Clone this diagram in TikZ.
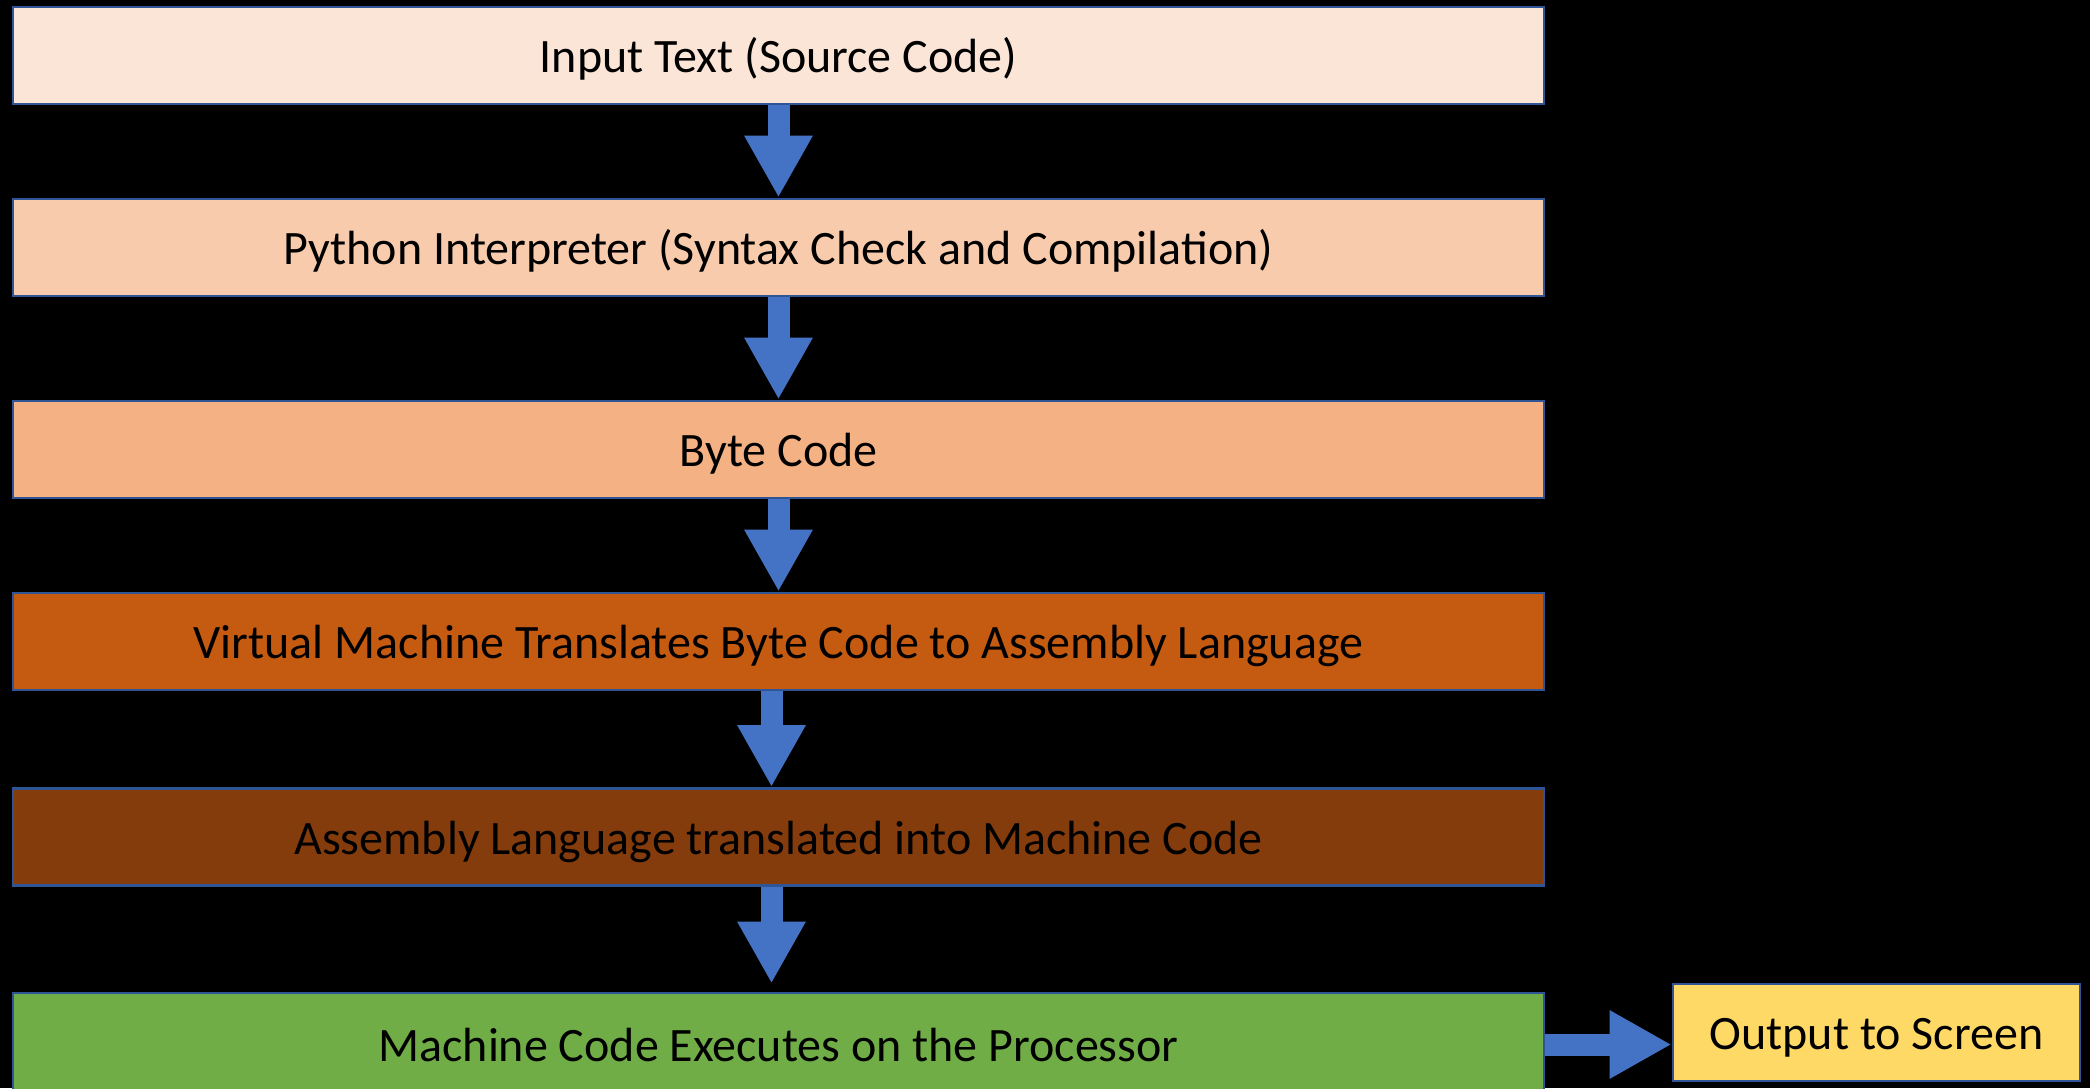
\documentclass[tikz,border=0pt]{standalone}
\usepackage{fontspec}
\setmainfont{Carlito}
\usetikzlibrary{arrows.meta}
\definecolor{bordc}{HTML}{2F5597}
\definecolor{arrc}{HTML}{4472C4}
\definecolor{cA}{HTML}{FBE5D6}
\definecolor{cB}{HTML}{F8CBAD}
\definecolor{cC}{HTML}{F4B183}
\definecolor{cD}{HTML}{C55A11}
\definecolor{cE}{HTML}{843C0C}
\definecolor{cF}{HTML}{70AD47}
\definecolor{cG}{HTML}{FFD966}
\tikzset{
  stagebox/.style={draw=bordc, line width=1.4pt, minimum width=765.5pt, minimum height=48.5pt,
    inner sep=0pt, text height=20pt, text depth=2.6pt,
    font=\fontsize{24pt}{29pt}\selectfont, text=black},
  flowarrow/.style={draw=arrc, line width=11pt, -{Triangle[width=32pt, length=31pt]}, arrc}
}
\begin{document}
\begin{tikzpicture}[x=0.5pt, y=-0.5pt]
\fill[black] (0,0) rectangle (2090,1088);
\useasboundingbox (0,0) rectangle (2090,1088);
\begin{scope}
\clip (0,0) rectangle (2090,1088);
\node[stagebox, fill=cA] (b1) at (778.5,55.5) {Input Text (Source Code)};
\node[stagebox, fill=cB] (b2) at (778.5,247.5) {Python Interpreter (Syntax Check and Compilation)};
\node[stagebox, fill=cC] (b3) at (778.5,449.5) {Byte Code};
\node[stagebox, fill=cD] (b4) at (778.5,641.5) {Virtual Machine Translates Byte Code to Assembly Language};
\node[stagebox, fill=cE] (b5) at (778.5,837) {Assembly Language translated into Machine Code};
\node[stagebox, fill=cF, minimum height=51.5pt] (b6) at (778.5,1044.5) {Machine Code Executes on the Processor};
\node[stagebox, fill=cG, minimum width=203.5pt] (out) at (1876.5,1032.5) {Output to Screen};
\draw[flowarrow] (b1.south) -- (b2.north);
\draw[flowarrow] (b2.south) -- (b3.north);
\draw[flowarrow] (b3.south) -- (b4.north);
\draw[flowarrow] ([xshift=-3.5pt]b4.south) -- ([xshift=-3.5pt]b5.north);
\draw[flowarrow, shorten >=4pt] ([xshift=-3.5pt]b5.south) -- ([xshift=-3.5pt]b6.north);
\draw[flowarrow] (b6.east) -- (b6.east -| out.west);
\end{scope}
\end{tikzpicture}
\end{document}
